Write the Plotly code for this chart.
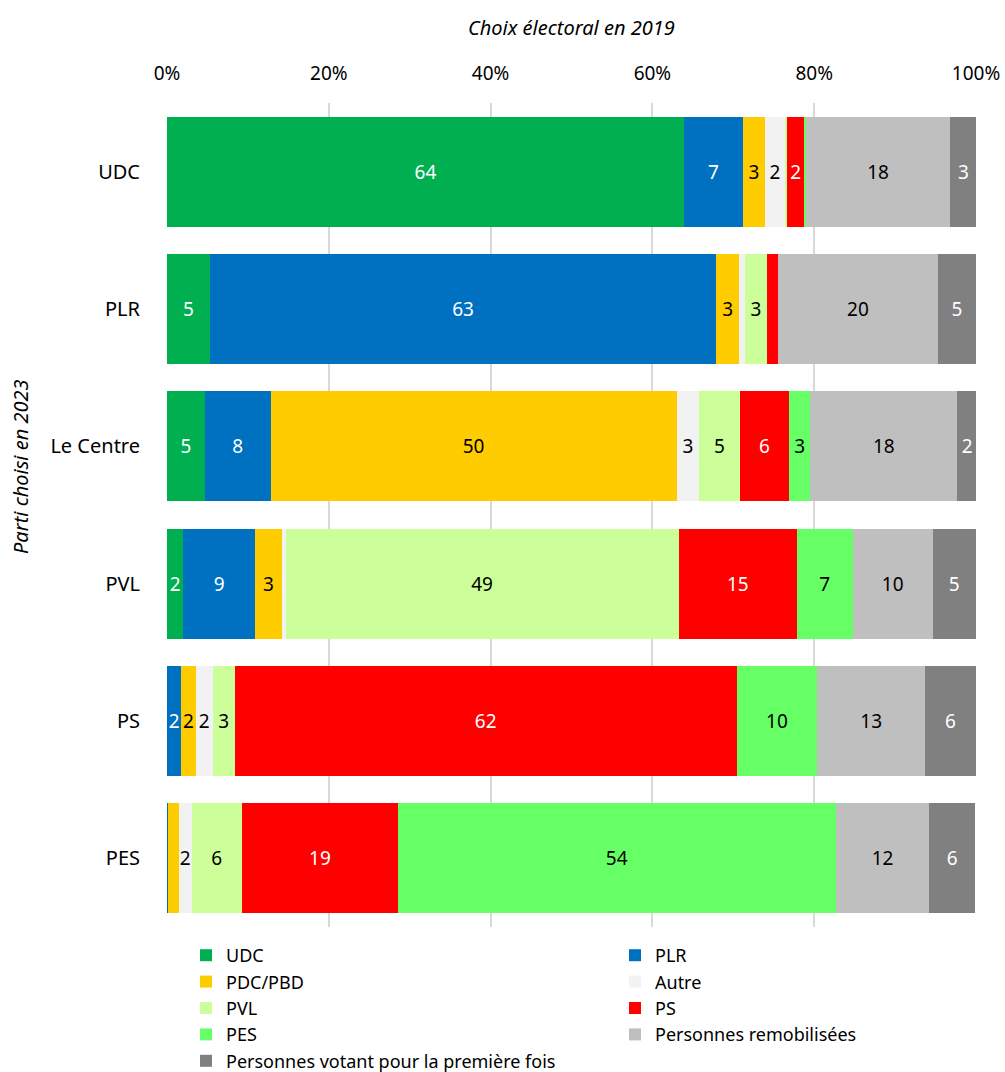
import plotly.graph_objects as go

categories = ["UDC", "PLR", "Le Centre", "PVL", "PS", "PES"]

series_names = ["UDC", "PLR", "PDC/PBD", "Autre", "PVL", "PS", "PES",
                "Personnes remobilisées", "Personnes votant pour la première fois"]

udc = [63.9, 5.3, 4.7, 2.0, 0.0, 0.0]
plr = [7.3, 62.6, 8.1, 8.9, 1.75, 0.15]
pdc = [2.7, 2.8, 50.2, 3.3, 1.8, 1.3]
autre = [2.5, 0.7, 2.8, 0.45, 2.1, 1.6]
pvl = [0.2, 2.8, 5.0, 48.6, 2.7, 6.2]
ps = [2.25, 1.3, 6.1, 14.6, 62.1, 19.3]
pes = [0.15, 0.0, 2.6, 6.9, 9.9, 54.1]
remob = [17.8, 19.8, 18.2, 9.9, 13.4, 11.6]
first = [3.3, 4.7, 2.4, 5.3, 6.2, 5.6]

series_values = [udc, plr, pdc, autre, pvl, ps, pes, remob, first]
colors = ["#00B050", "#0070C0", "#FFCC00", "#F2F2F2", "#CCFF99", "#FF0000",
          "#66FF66", "#BFBFBF", "#808080"]
text_colors = ["white", "white", "black", "black", "black", "white",
               "black", "black", "white"]
legend_ids = ["legend" if i % 2 == 0 else "legend2" for i in range(len(series_names))]

FONT = "Noto Sans"
W, H = 1005, 1072
ML, MR, MT, MB = 167, 29, 103, 145
PW, PH = W - ML - MR, H - MT - MB

fig = go.Figure()
for name, vals, col, tcol, lg in zip(series_names, series_values, colors, text_colors, legend_ids):
    labels = [str(int(round(v))) if v >= 1.5 else "" for v in vals]
    fig.add_trace(go.Bar(
        name=name, y=categories, x=vals, orientation="h",
        marker=dict(color=col, line=dict(width=0)),
        text=labels, textposition="inside", insidetextanchor="middle",
        textangle=0, constraintext="none",
        textfont=dict(color=tcol, size=19, family=FONT),
        hoverinfo="x+y+name", legend=lg,
    ))

legend_common = dict(orientation="v", xref="paper", yref="container",
                     xanchor="left", yanchor="top", traceorder="normal",
                     font=dict(size=18, color="black", family=FONT),
                     itemwidth=30, tracegroupgap=0, borderwidth=0,
                     bgcolor="rgba(0,0,0,0)")
leg_y = 1 - 937 / H

fig.update_layout(
    barmode="stack", bargap=0.2,
    width=W, height=H,
    margin=dict(l=ML, r=MR, t=MT, b=MB, autoexpand=False),
    paper_bgcolor="white", plot_bgcolor="white",
    font=dict(family=FONT, size=19, color="black"),
    uniformtext=dict(mode="show", minsize=19),
    xaxis=dict(side="top", range=[0, 100], dtick=20, ticksuffix="%",
               showgrid=True, gridcolor="#D9D9D9", gridwidth=1.5,
               zeroline=False, ticks="outside", ticklen=14, tickcolor="white",
               tickfont=dict(size=19, color="black"), automargin=False),
    yaxis=dict(autorange="reversed", showgrid=False, zeroline=False,
               ticks="outside", ticklen=22, tickcolor="white",
               tickfont=dict(size=20, color="black"), automargin=False),
    legend=dict(x=(186 - ML) / PW, y=leg_y, **legend_common),
    legend2=dict(x=(615 - ML) / PW, y=leg_y, **legend_common),
    annotations=[
        dict(text="<i>Choix électoral en 2019</i>", xref="paper", yref="paper",
             x=0.5, y=(H - MB - 27) / PH, xanchor="center", yanchor="middle",
             showarrow=False, font=dict(size=20)),
        dict(text="<i>Parti choisi en 2023</i>", xref="paper", yref="paper",
             x=(20 - ML) / PW, y=(H - MB - 467) / PH, xanchor="center", yanchor="middle",
             showarrow=False, textangle=-90, font=dict(size=20)),
    ],
)

fig.write_html("out.html", config={"displayModeBar": False},
               post_script="document.body.style.margin='0px';")
